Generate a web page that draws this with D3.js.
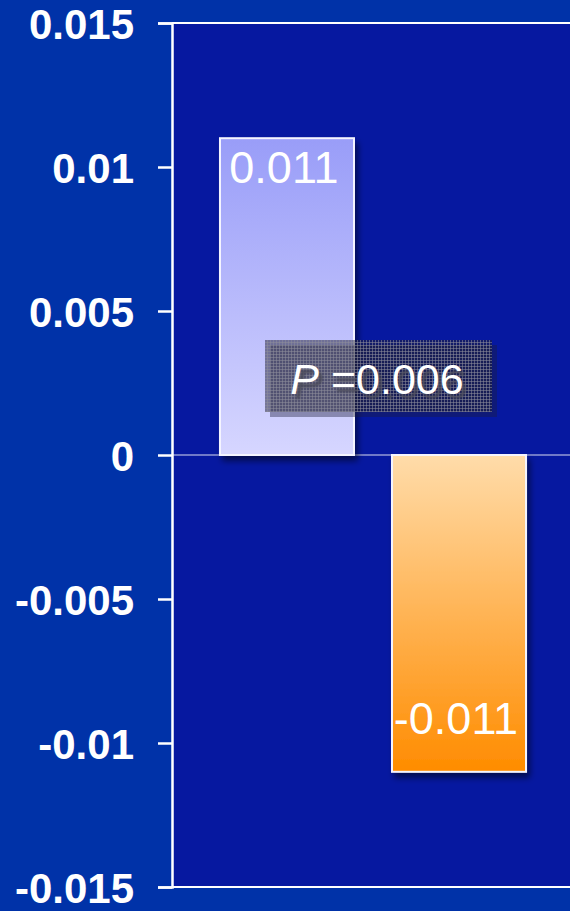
<!DOCTYPE html>
<html>
<head>
<meta charset="utf-8">
<script src="https://cdn.jsdelivr.net/npm/d3@7/dist/d3.min.js"></script>
<style>
  html, body { margin: 0; padding: 0; background: #0032a8; }
  svg { display: block; }
</style>
</head>
<body>
<script>
// Chart data
const categories = ["A", "B"];
const values = [0.011, -0.011];
const valueLabels = ["0.011", "-0.011"];
const tickValues = [0.015, 0.01, 0.005, 0, -0.005, -0.01, -0.015];
const tickLabels = ["0.015", "0.01", "0.005", "0", "-0.005", "-0.01", "-0.015"];
const pLabel = "0.006";

const W = 570, H = 911;
const plotLeft = 172, plotTop = 23, plotBottom = 887;

const svg = d3.select("body").append("svg").attr("width", W).attr("height", H);
const defs = svg.append("defs");

const gPos = defs.append("linearGradient").attr("id", "gPos").attr("x1", 0).attr("y1", 0).attr("x2", 0).attr("y2", 1);
gPos.append("stop").attr("offset", "0%").attr("stop-color", "#999df8");
gPos.append("stop").attr("offset", "100%").attr("stop-color", "#d6d6ff");

const gNeg = defs.append("linearGradient").attr("id", "gNeg").attr("x1", 0).attr("y1", 0).attr("x2", 0).attr("y2", 1);
gNeg.append("stop").attr("offset", "0%").attr("stop-color", "#ffdcaa");
gNeg.append("stop").attr("offset", "100%").attr("stop-color", "#ff8c00");

const shadow = defs.append("filter").attr("id", "shadow").attr("x", "-20%").attr("y", "-20%").attr("width", "140%").attr("height", "140%");
shadow.append("feGaussianBlur").attr("in", "SourceAlpha").attr("stdDeviation", 3);
shadow.append("feOffset").attr("dx", 3).attr("dy", 5).attr("result", "ob");
shadow.append("feComponentTransfer").append("feFuncA").attr("type", "linear").attr("slope", 0.5);
const mg = shadow.append("feMerge");
mg.append("feMergeNode");
mg.append("feMergeNode").attr("in", "SourceGraphic");

const txtShadow = defs.append("filter").attr("id", "txtShadow");
txtShadow.append("feGaussianBlur").attr("stdDeviation", 1);

// Screen-like grid texture for the P-value box
const pat = defs.append("pattern").attr("id", "grain").attr("width", 3).attr("height", 3).attr("patternUnits", "userSpaceOnUse");
pat.append("rect").attr("width", 3).attr("height", 3).attr("fill", "rgba(30,30,50,0.5)");
pat.append("rect").attr("width", 1).attr("height", 3).attr("fill", "rgba(140,140,155,0.55)");
pat.append("rect").attr("width", 3).attr("height", 1).attr("fill", "rgba(140,140,155,0.55)");

const y = d3.scaleLinear().domain([-0.015, 0.015]).range([plotBottom, plotTop]);
const x = d3.scaleBand().domain(categories).range([172, 574]).paddingInner(0.2209).paddingOuter(0.279);

// Plot area background
svg.append("rect").attr("x", plotLeft).attr("y", plotTop).attr("width", W - plotLeft).attr("height", plotBottom - plotTop).attr("fill", "#0618a0");

// Top and bottom border lines
svg.append("line").attr("x1", plotLeft).attr("x2", W).attr("y1", y(0.015)).attr("y2", y(0.015)).attr("stroke", "#fff").attr("stroke-width", 2);
svg.append("line").attr("x1", plotLeft).attr("x2", W).attr("y1", y(-0.015)).attr("y2", y(-0.015)).attr("stroke", "#fff").attr("stroke-width", 2);

// Zero line
svg.append("line").attr("x1", plotLeft).attr("x2", W).attr("y1", y(0)).attr("y2", y(0)).attr("stroke", "#ffffff").attr("stroke-width", 1.2).attr("opacity", 0.85);

// Bars
svg.selectAll("rect.bar").data(values).enter().append("rect")
  .attr("class", "bar")
  .attr("x", (d, i) => x(categories[i]))
  .attr("y", d => y(Math.max(0, d)))
  .attr("width", x.bandwidth())
  .attr("height", d => Math.abs(y(d) - y(0)))
  .attr("fill", (d, i) => i === 0 ? "url(#gPos)" : "url(#gNeg)")
  .attr("stroke", "#f4f4ff")
  .attr("stroke-width", 2)
  .attr("filter", "url(#shadow)");

// Value labels inside bars
svg.selectAll("text.val").data(values).enter().append("text")
  .attr("class", "val")
  .attr("x", (d, i) => x(categories[i]) + x.bandwidth() / 2 - 3)
  .attr("y", d => d > 0 ? y(d) + 45 : y(d) - 38)
  .attr("text-anchor", "middle")
  .attr("font-family", "Liberation Sans, Arial, sans-serif")
  .attr("font-size", 45)
  .attr("fill", "#ffffff")
  .text((d, i) => valueLabels[i]);

// Y axis
const axis = d3.axisLeft(y).tickValues(tickValues).tickSize(14).tickFormat((d, i) => tickLabels[i]);
const ga = svg.append("g").attr("transform", `translate(${plotLeft},0)`).call(axis);
ga.select(".domain").attr("stroke", "#fff").attr("stroke-width", 2.5);
ga.selectAll(".tick line").attr("stroke", "#fff").attr("stroke-width", 2.5);
ga.selectAll(".tick text")
  .attr("x", -38)
  .attr("dy", "0.36em")
  .attr("fill", "#fff")
  .attr("font-family", "Liberation Sans, Arial, sans-serif")
  .attr("font-weight", "bold")
  .attr("font-size", 42);

// P-value annotation
const bx = 265, by = 340, bW = 232, bH = 76;
svg.append("rect").attr("x", bx + 5).attr("y", by + 5).attr("width", bW - 5).attr("height", bH - 4).attr("fill", "rgba(30,30,60,0.4)");
svg.append("rect").attr("x", bx).attr("y", by).attr("width", bW - 5).attr("height", bH - 4).attr("fill", "url(#grain)");

const pg = svg.append("g").attr("font-family", "Liberation Sans, Arial, sans-serif").attr("font-size", 43);
const makeP = (g) => {
  const t = g.append("text").attr("x", 377).attr("y", 394).attr("text-anchor", "middle");
  t.append("tspan").attr("font-style", "italic").text("P");
  t.append("tspan").text(" =" + pLabel);
  return t;
};
makeP(pg.append("g").attr("transform", "translate(4,5)")).attr("fill", "#4a4a58").attr("filter", "url(#txtShadow)").attr("opacity", 0.85);
makeP(pg).attr("fill", "#ffffff");
</script>
</body>
</html>
